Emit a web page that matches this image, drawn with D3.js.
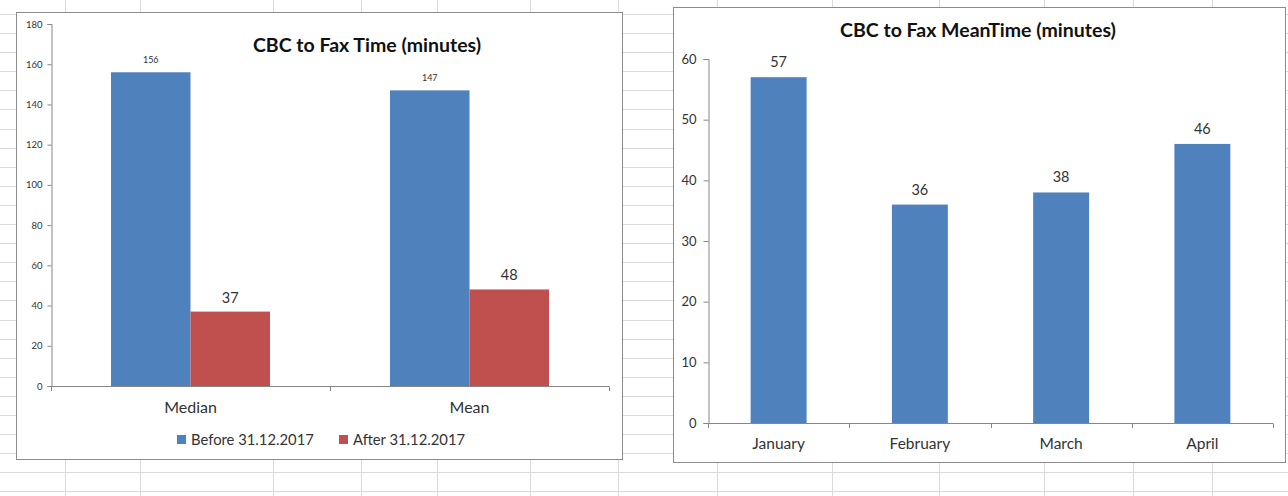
<!DOCTYPE html>
<html>
<head>
<meta charset="utf-8">
<script src="https://cdn.jsdelivr.net/npm/d3@7"></script>
<style>
  html, body { margin: 0; padding: 0; background: #fff; }
  svg { display: block; }
  text { font-family: Lato, "Open Sans", sans-serif; }
</style>
</head>
<body>
<svg id="chart" width="1288" height="496"></svg>
<script>
// ---- data ----
const groupCats = ["Median", "Mean"];
const seriesNames = ["Before 31.12.2017", "After 31.12.2017"];
const beforeVals = [156, 147];
const afterVals = [37, 48];
const leftTicks = [0, 20, 40, 60, 80, 100, 120, 140, 160, 180];
const leftTitle = "CBC to Fax Time (minutes)";

const months = ["January", "February", "March", "April"];
const meanTimes = [57, 36, 38, 46];
const rightTicks = [0, 10, 20, 30, 40, 50, 60];
const rightTitle = "CBC to Fax MeanTime (minutes)";

// ---- style ----
const BLUE = "#4f81bd", RED = "#c0504d";
const TXT = "#333333", AXIS = "#868686", GRID = "#dadada", BORDER = "#8c8c8c";

const svg = d3.select("#chart");

// spreadsheet grid background (decoration)
const rowStep = 19.1;
const rows = d3.range(-1, 25).map(k => 33 + rowStep * k);
const cols = [65, 140, 273, 361, 437, 530, 618, 717, 832, 939, 1044, 1133, 1212];
const grid = svg.append("g");
grid.selectAll("line.h").data(rows).join("line")
  .attr("x1", 0).attr("x2", 1288).attr("y1", d => Math.round(d) + 0.5).attr("y2", d => Math.round(d) + 0.5)
  .attr("stroke", GRID).attr("stroke-width", 1);
grid.selectAll("line.v").data(cols).join("line")
  .attr("y1", 0).attr("y2", 496).attr("x1", d => d + 0.5).attr("x2", d => d + 0.5)
  .attr("stroke", GRID).attr("stroke-width", 1);

// ================= LEFT CHART =================
{
  const g = svg.append("g");
  g.append("rect").attr("x", 16.5).attr("y", 12.5).attr("width", 606).attr("height", 447)
    .attr("fill", "#fff").attr("stroke", BORDER);

  const x0 = d3.scaleBand().domain(groupCats).range([51, 609]).paddingInner(0).paddingOuter(0);
  const x1 = d3.scaleBand().domain(seriesNames).range([0, x0.bandwidth()]).paddingInner(0).paddingOuter(0.755);
  const y = d3.scaleLinear().domain([0, 180]).range([386, 24]);

  const data = groupCats.map((c, i) => ({ cat: c, vals: [beforeVals[i], afterVals[i]] }));
  const colors = [BLUE, RED];

  // y axis
  const ya = g.append("g").attr("transform", "translate(51.5,0)")
    .call(d3.axisLeft(y).tickValues(leftTicks).tickSize(4).tickPadding(5).tickFormat(d3.format("d")));
  ya.select(".domain").attr("stroke", AXIS);
  ya.selectAll(".tick line").attr("stroke", AXIS);
  ya.selectAll(".tick text").attr("fill", TXT).style("font-size", "9.5px").style("font-family", "Lato, sans-serif");

  // bars
  const grp = g.selectAll("g.grp").data(data).join("g").attr("transform", d => `translate(${x0(d.cat)},0)`);
  grp.selectAll("rect").data(d => d.vals.map((v, j) => ({ v, j }))).join("rect")
    .attr("x", d => x1(seriesNames[d.j]))
    .attr("width", x1.bandwidth())
    .attr("y", d => y(d.v))
    .attr("height", d => y(0) - y(d.v))
    .attr("fill", d => colors[d.j]);
  grp.selectAll("text").data(d => d.vals.map((v, j) => ({ v, j }))).join("text")
    .attr("x", d => x1(seriesNames[d.j]) + x1.bandwidth() / 2)
    .attr("y", d => y(d.v) - 9)
    .attr("text-anchor", "middle")
    .attr("fill", TXT)
    .style("font-size", d => d.j === 0 ? "9px" : "14.5px")
    .text(d => d.v);

  // x axis
  const xa = g.append("g").attr("transform", "translate(0,386.5)")
    .call(d3.axisBottom(x0).tickSize(0).tickPadding(15));
  xa.select(".domain").remove();
  xa.selectAll(".tick text").attr("fill", TXT).style("font-size", "16px").style("font-family", "Lato, sans-serif");
  const [r0, r1] = x0.range();
  g.append("line").attr("x1", r0).attr("x2", r1).attr("y1", 386.5).attr("y2", 386.5).attr("stroke", AXIS);
  const bounds = groupCats.map(c => x0(c)).concat([r1]);
  g.selectAll("line.bt").data(bounds).join("line")
    .attr("x1", d => Math.round(d) + 0.5).attr("x2", d => Math.round(d) + 0.5)
    .attr("y1", 386.5).attr("y2", 391).attr("stroke", AXIS);

  // title
  g.append("text").attr("x", 367).attr("y", 52).attr("text-anchor", "middle")
    .attr("fill", "#111").style("font-size", "19.5px").style("font-weight", "bold").text(leftTitle);

  // legend
  const legX = [177, 339];
  const lg = g.selectAll("g.leg").data(seriesNames).join("g").attr("transform", (d, i) => `translate(${legX[i]},435)`);
  lg.append("rect").attr("width", 9).attr("height", 9).attr("fill", (d, i) => colors[i]);
  lg.append("text").attr("x", 14).attr("y", 9.5).attr("fill", TXT).style("font-size", "14.8px").text(d => d);
}

// ================= RIGHT CHART =================
{
  const g = svg.append("g");
  g.append("rect").attr("x", 673.5).attr("y", 7.5).attr("width", 612).attr("height", 455)
    .attr("fill", "#fff").attr("stroke", BORDER);

  const x = d3.scaleBand().domain(months).range([708, 1273]).paddingInner(0.604).paddingOuter(0.302);
  const y = d3.scaleLinear().domain([0, 60]).range([423, 59]);

  const ya = g.append("g").attr("transform", "translate(708.5,0)")
    .call(d3.axisLeft(y).tickValues(rightTicks).tickSize(5).tickPadding(7).tickFormat(d3.format("d")));
  ya.select(".domain").attr("stroke", AXIS);
  ya.selectAll(".tick line").attr("stroke", AXIS);
  ya.selectAll(".tick text").attr("fill", TXT).style("font-size", "13px").style("font-family", "Lato, sans-serif");

  const data = months.map((m, i) => ({ m, v: meanTimes[i] }));
  g.selectAll("rect.bar").data(data).join("rect")
    .attr("x", d => x(d.m)).attr("width", x.bandwidth())
    .attr("y", d => y(d.v)).attr("height", d => y(0) - y(d.v))
    .attr("fill", BLUE);
  g.selectAll("text.lbl").data(data).join("text")
    .attr("x", d => x(d.m) + x.bandwidth() / 2)
    .attr("y", d => y(d.v) - 10)
    .attr("text-anchor", "middle").attr("fill", TXT).style("font-size", "14.5px")
    .text(d => d.v);

  const xa = g.append("g").attr("transform", "translate(0,423.5)")
    .call(d3.axisBottom(x).tickSize(0).tickPadding(14));
  xa.select(".domain").remove();
  xa.selectAll(".tick text").attr("fill", TXT).style("font-size", "15.5px").style("font-family", "Lato, sans-serif");
  const [r0, r1] = x.range();
  g.append("line").attr("x1", r0).attr("x2", r1).attr("y1", 423.5).attr("y2", 423.5).attr("stroke", AXIS);
  const step = x.step();
  const bounds = d3.range(months.length + 1).map(i => r0 + i * step);
  g.selectAll("line.bt").data(bounds).join("line")
    .attr("x1", d => Math.round(d) + 0.5).attr("x2", d => Math.round(d) + 0.5)
    .attr("y1", 423.5).attr("y2", 428).attr("stroke", AXIS);

  g.append("text").attr("x", 978).attr("y", 37).attr("text-anchor", "middle")
    .attr("fill", "#111").style("font-size", "19.5px").style("font-weight", "bold").text(rightTitle);
}
</script>
</body>
</html>
